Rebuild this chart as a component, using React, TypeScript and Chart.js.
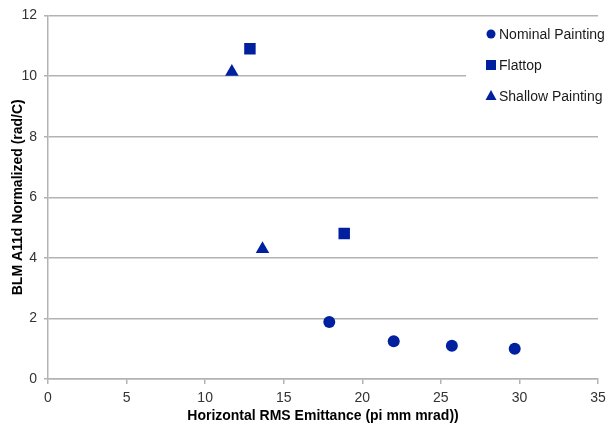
import React, { useEffect, useRef } from "react";
import { Chart, registerables } from "chart.js";

Chart.register(...registerables);

const nominalX = [17.9, 22.0, 25.7, 29.7];
const nominalY = [1.88, 1.25, 1.1, 1.0];
const flattopX = [12.85, 18.85];
const flattopY = [10.9, 4.8];
const shallowX = [11.7, 13.65];
const shallowY = [10.14, 4.29];

const seriesNames = ["Nominal Painting", "Flattop", "Shallow Painting"];
const xTitle = "Horizontal RMS Emittance (pi mm mrad))";
const yTitle = "BLM A11d Normalized (rad/C)";

const FONT = "'Liberation Sans', Arial, sans-serif";
const BLUE = "#0020A0";
const GRID = "#b3b3b3";

const legendPlugin = {
  id: "customLegend",
  afterDraw(chart: any) {
    const ctx = chart.ctx;
    ctx.save();
    ctx.fillStyle = "#ffffff";
    ctx.fillRect(466, 22, 147, 92);
    const items = [
      { style: "circle", y: 34 },
      { style: "rect", y: 65 },
      { style: "triangle", y: 96 },
    ];
    items.forEach((it, i) => {
      ctx.fillStyle = BLUE;
      ctx.beginPath();
      const x = 491;
      const y = it.y;
      if (it.style === "circle") {
        ctx.arc(x, y, 4.5, 0, Math.PI * 2);
      } else if (it.style === "rect") {
        ctx.rect(x - 5, y - 5, 10, 10);
      } else {
        ctx.moveTo(x, y - 6);
        ctx.lineTo(x + 5.5, y + 4);
        ctx.lineTo(x - 5.5, y + 4);
        ctx.closePath();
      }
      ctx.fill();
      ctx.fillStyle = "#1a1a1a";
      ctx.font = `14px ${FONT}`;
      ctx.textBaseline = "middle";
      ctx.textAlign = "left";
      ctx.fillText(seriesNames[i], 499, y + 1);
    });
    ctx.restore();
  },
};

export default function App() {
  const ref = useRef<HTMLCanvasElement>(null);
  useEffect(() => {
    if (!ref.current) return;
    const mk = (xs: number[], ys: number[]) => xs.map((x, i) => ({ x, y: ys[i] }));
    const chart = new Chart(ref.current, {
      type: "scatter",
      data: {
        datasets: [
          {
            label: seriesNames[0],
            data: mk(nominalX, nominalY),
            pointStyle: "circle",
            pointRadius: 6,
            pointHoverRadius: 6,
            backgroundColor: BLUE,
            borderColor: BLUE,
            borderWidth: 0,
          },
          {
            label: seriesNames[1],
            data: mk(flattopX, flattopY),
            pointStyle: "rect",
            pointRadius: 8.1,
            pointHoverRadius: 8.1,
            backgroundColor: BLUE,
            borderColor: BLUE,
            borderWidth: 0,
          },
          {
            label: seriesNames[2],
            data: mk(shallowX, shallowY),
            pointStyle: "triangle",
            pointRadius: 7.8,
            pointHoverRadius: 7.8,
            backgroundColor: BLUE,
            borderColor: BLUE,
            borderWidth: 0,
          },
        ],
      },
      options: {
        responsive: false,
        animation: false,
        layout: { padding: { top: 15.5, right: 15, left: 0, bottom: 0 } },
        plugins: {
          legend: { display: false },
          tooltip: { enabled: false },
        },
        scales: {
          x: {
            type: "linear",
            min: 0,
            max: 35,
            ticks: {
              stepSize: 5,
              padding: 6,
              color: "#333",
              font: { family: FONT, size: 14 },
            },
            grid: {
              drawOnChartArea: false,
              tickLength: 5,
              color: GRID,
              lineWidth: 1.5,
            },
            border: { color: GRID, width: 1.5 },
            title: {
              display: true,
              text: xTitle,
              color: "#000",
              font: { family: FONT, size: 14, weight: "bold" },
              padding: { top: 0, bottom: 5.5 },
            },
            afterFit: (s: any) => {
              s.height = 51;
            },
          },
          y: {
            type: "linear",
            min: 0,
            max: 12,
            ticks: {
              stepSize: 2,
              padding: 7,
              color: "#333",
              font: { family: FONT, size: 14 },
            },
            grid: {
              color: GRID,
              lineWidth: 1.5,
              tickLength: 4,
            },
            border: { color: GRID, width: 1.5 },
            title: {
              display: true,
              text: yTitle,
              color: "#000",
              font: { family: FONT, size: 14, weight: "bold" },
              padding: { top: 10, bottom: 0 },
            },
            afterFit: (s: any) => {
              s.width = 48;
            },
          },
        },
      },
      plugins: [legendPlugin],
    } as any);
    return () => chart.destroy();
  }, []);
  return (
    <div style={{ position: "fixed", left: 0, top: 0, width: 613, height: 430, background: "#fff" }}>
      <canvas ref={ref} width={613} height={430} style={{ display: "block" }} />
    </div>
  );
}
